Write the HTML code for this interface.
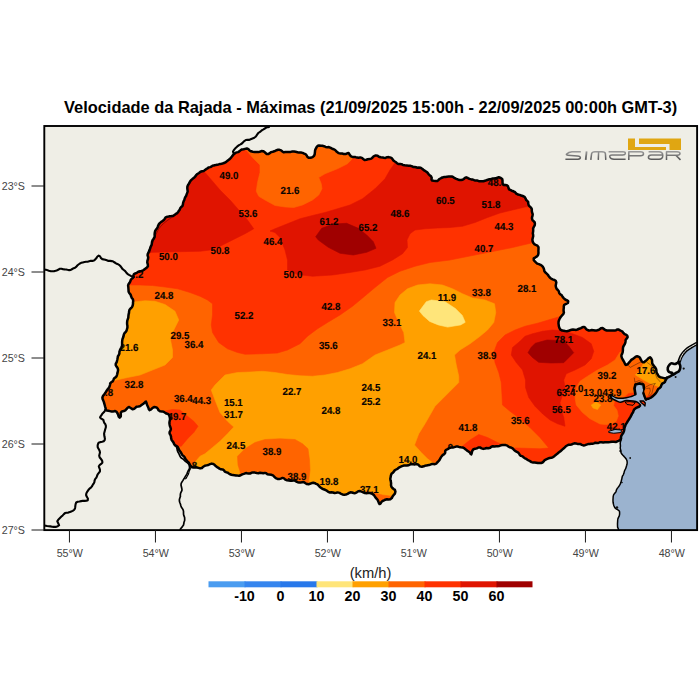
<!DOCTYPE html><html><head><meta charset="utf-8"><style>html,body{margin:0;padding:0;background:#fff}body{width:700px;height:700px;overflow:hidden;position:relative;font-family:"Liberation Sans",sans-serif}svg{position:absolute;left:0;top:0}text{font-family:"Liberation Sans",sans-serif}</style></head><body>
<svg width="700" height="700" viewBox="0 0 700 700">
<defs><clipPath id="st"><path d="M646.3,399.4L647.2,398.8L648.7,398.7L650.1,398.0L651.4,397.3L652.7,396.3L653.9,395.1L655.1,394.0L656.0,392.9L656.8,391.6L657.5,390.3L658.2,389.0L659.5,388.2L660.8,386.8L661.4,385.1L662.2,383.7L663.7,382.9L664.9,382.0L665.3,380.8L666.3,379.1L666.7,377.8L665.3,378.6L664.0,378.1L662.1,377.6L660.2,377.2L658.8,376.4L657.9,375.0L657.2,373.7L656.5,372.3L656.4,370.7L656.1,369.1L655.3,367.6L654.2,366.2L653.1,364.9L652.2,363.3L652.1,361.6L652.0,360.0L651.0,358.2L650.0,357.3L648.6,358.0L647.1,359.6L646.0,360.7L644.7,361.6L644.0,362.3L642.7,362.2L641.4,360.7L640.7,359.4L640.0,357.8L638.6,356.6L637.1,356.2L635.7,356.6L634.4,357.8L632.9,358.9L631.3,359.9L630.2,361.2L629.0,362.6L627.9,364.0L626.5,364.8L625.8,364.9L625.2,364.3L624.5,362.7L623.6,361.0L622.7,359.5L621.9,358.0L621.4,356.2L621.5,355.0L622.2,353.6L622.7,352.1L622.9,350.4L622.9,348.7L623.1,347.1L623.8,345.6L624.7,344.2L625.3,342.8L625.5,341.5L625.7,339.7L626.8,338.4L627.6,337.3L627.5,336.3L627.1,335.5L626.0,334.7L624.6,334.1L623.4,332.9L622.5,331.7L621.3,331.0L620.1,330.4L618.7,329.6L617.5,329.4L616.1,330.2L614.6,330.6L612.9,330.6L611.3,330.5L610.0,330.5L608.5,330.5L606.9,330.5L605.3,330.0L604.0,329.1L602.6,328.1L600.9,328.3L599.6,329.4L598.2,330.1L596.6,330.4L595.0,330.5L593.4,330.2L591.8,330.0L590.2,330.4L588.7,330.5L587.4,329.9L586.0,328.9L585.2,327.7L583.8,326.9L582.3,327.3L580.9,328.1L579.2,328.7L577.5,329.5L576.2,329.9L574.6,329.7L573.0,329.6L571.5,329.8L570.1,330.2L568.8,330.8L566.9,331.2L565.2,331.1L563.7,330.8L562.2,330.6L560.5,329.7L559.5,328.2L558.9,326.4L558.7,324.9L558.5,323.3L558.6,321.5L559.2,319.7L559.9,318.3L560.9,316.8L562.0,315.4L563.3,314.1L563.9,312.5L563.6,310.9L563.6,309.3L563.8,307.7L563.8,306.2L564.2,304.8L566.1,303.9L567.9,303.0L568.2,301.3L567.3,300.5L566.0,300.0L564.7,299.1L563.4,297.8L562.4,296.4L561.6,295.1L560.2,294.2L559.2,292.9L558.8,291.2L557.8,290.0L556.7,288.9L556.0,287.3L555.7,285.7L556.0,284.1L556.3,282.4L555.7,280.8L554.2,279.9L552.6,279.3L551.1,278.6L549.8,277.5L548.8,276.2L547.9,274.8L546.7,273.6L545.4,272.5L544.4,271.2L544.1,269.7L543.6,268.1L542.9,266.9L541.8,265.7L540.5,264.8L538.9,264.1L537.2,263.6L536.1,262.6L534.9,261.4L533.8,260.2L533.7,258.3L535.5,257.3L537.3,256.1L538.1,254.9L538.5,253.0L538.4,251.0L538.5,249.0L538.5,247.2L537.4,245.6L535.7,244.9L534.2,244.1L533.2,242.8L532.6,241.2L532.4,239.5L532.8,237.8L533.2,236.2L533.1,234.7L532.8,233.2L533.1,231.7L533.2,230.0L533.1,228.5L533.8,226.9L534.7,225.4L534.9,223.8L534.7,222.4L533.6,221.1L532.5,220.2L532.0,218.7L532.0,217.4L532.5,215.8L532.7,214.1L532.1,212.5L531.8,210.9L531.8,209.2L531.0,207.7L529.6,206.4L528.7,205.3L528.3,203.8L528.2,202.1L527.3,200.9L526.2,200.0L525.5,198.3L524.6,196.8L522.7,196.0L521.2,195.5L519.6,194.9L517.8,194.5L516.3,193.6L515.1,192.2L513.4,191.3L511.7,190.7L510.2,189.9L509.0,189.3L508.4,187.8L508.0,186.2L506.8,185.2L505.6,185.0L504.0,184.8L502.7,184.0L502.5,182.2L502.5,180.3L502.2,179.0L500.8,178.0L498.8,177.3L497.3,177.7L495.8,178.3L493.7,178.5L492.4,178.6L491.0,179.0L489.4,179.3L487.9,179.8L486.4,180.3L485.0,180.7L483.4,181.2L481.9,181.2L480.3,181.3L478.9,181.2L477.5,180.6L475.8,180.6L474.2,180.2L472.8,179.6L471.3,179.4L469.4,178.9L467.8,178.0L466.2,177.3L464.9,177.8L463.9,179.0L462.6,179.8L461.1,180.1L459.4,180.0L457.5,179.3L456.3,178.9L454.8,178.2L453.4,177.2L451.8,176.5L450.0,176.5L448.6,176.6L447.0,176.7L445.4,176.9L443.8,177.1L442.4,177.5L441.3,178.0L439.5,179.0L438.3,180.2L437.3,180.9L435.7,180.9L433.8,180.8L432.0,180.5L431.5,179.4L431.7,177.8L431.0,176.3L429.6,175.2L428.5,174.1L427.4,172.6L426.0,171.5L424.6,170.7L423.4,169.8L422.1,168.7L420.7,167.8L418.8,167.6L417.4,167.7L416.1,167.3L414.6,167.0L413.1,166.9L411.6,166.1L410.1,165.7L408.4,165.8L406.6,165.4L404.8,165.3L403.0,165.0L401.6,164.2L400.2,164.1L398.3,164.0L397.0,163.2L396.1,162.3L394.8,161.5L393.4,160.5L392.5,159.1L391.4,157.9L389.9,157.4L388.6,157.1L387.1,157.2L385.5,157.9L383.9,157.8L382.5,157.4L380.6,157.3L378.9,156.8L377.6,155.8L375.7,155.4L373.6,156.3L372.6,157.5L371.3,158.6L369.6,159.1L367.8,159.3L366.3,159.8L364.6,160.0L363.2,159.0L361.9,157.9L360.3,157.4L358.7,157.8L357.0,157.6L355.4,157.1L353.9,156.9L352.5,157.0L350.7,156.1L349.5,154.5L348.7,153.1L347.2,153.3L345.5,154.1L343.7,153.9L342.2,153.6L340.5,153.5L338.7,153.1L337.5,152.3L336.2,151.2L335.1,150.0L333.8,149.2L332.1,148.7L330.7,147.9L328.9,147.1L327.3,147.2L325.6,146.9L324.0,146.2L322.4,145.8L321.1,145.8L319.0,145.5L317.9,145.8L317.3,146.2L316.5,147.3L315.7,148.8L315.1,150.3L314.9,152.3L314.7,154.2L314.1,155.8L312.6,157.1L310.6,157.8L308.6,157.8L307.3,156.8L306.6,155.3L305.5,154.2L304.2,153.7L302.6,152.9L300.9,152.5L299.1,152.6L297.4,152.2L295.7,151.8L294.0,151.6L292.3,151.5L290.6,151.9L288.9,152.1L287.1,152.0L285.3,152.1L283.8,152.3L282.4,151.5L281.1,150.4L279.5,149.8L278.0,149.8L276.6,150.2L275.3,150.8L274.2,151.3L272.8,151.7L271.2,152.1L270.1,152.9L268.5,154.0L266.5,153.9L265.1,152.5L263.5,151.3L261.4,151.1L259.7,151.7L258.1,152.1L256.3,152.1L254.6,151.9L252.8,151.7L251.0,151.3L249.6,150.5L248.4,149.2L246.8,148.5L245.1,148.9L243.6,149.3L242.0,149.4L240.5,150.3L239.3,151.4L238.1,152.1L236.8,152.4L235.4,152.9L234.1,153.9L233.2,154.9L232.2,156.1L231.3,157.4L230.1,158.7L228.8,159.8L227.5,160.8L226.2,161.9L224.8,162.8L223.2,163.3L221.6,163.7L220.1,164.0L218.5,164.4L217.0,164.7L215.5,165.1L213.9,165.4L212.5,165.8L211.2,166.7L210.0,167.1L208.5,167.5L207.6,168.3L206.4,168.9L205.0,170.0L203.9,170.9L202.2,171.2L200.5,171.8L199.0,173.0L197.4,174.0L196.1,175.2L195.1,176.7L194.0,177.8L192.6,178.8L191.4,179.9L190.3,181.1L189.6,182.5L188.9,183.7L188.2,184.7L187.4,186.6L187.3,188.2L187.5,190.1L187.7,191.4L187.2,192.8L186.7,194.2L186.2,195.7L185.3,197.1L184.7,198.5L184.3,200.0L183.6,201.4L183.1,202.9L182.9,204.5L182.4,206.0L181.2,207.0L180.2,208.3L179.7,209.7L178.9,210.8L178.1,212.0L177.3,213.1L175.8,213.9L174.4,214.9L173.0,215.9L171.5,216.1L169.9,216.2L168.6,216.5L166.9,216.8L165.6,217.3L164.8,218.7L163.8,220.0L162.5,221.0L161.2,221.9L160.0,222.9L158.9,224.1L158.2,225.5L157.7,227.0L157.1,228.3L156.0,229.5L155.2,230.9L154.8,232.5L154.6,234.4L154.7,235.8L154.5,237.3L153.6,238.7L152.7,240.0L152.1,241.4L151.9,242.8L151.7,244.5L151.1,245.9L150.4,247.3L150.0,248.7L149.5,250.1L148.9,251.4L148.4,252.8L147.7,254.1L147.6,255.6L148.2,257.1L148.0,259.0L147.4,260.9L147.3,262.7L147.8,264.3L147.9,266.2L146.9,267.5L145.6,268.5L144.5,269.4L143.2,270.3L141.6,271.0L140.0,271.3L138.3,271.8L136.8,272.8L135.3,273.4L134.0,274.1L133.4,275.4L133.5,276.9L132.9,277.9L131.7,278.7L130.7,280.1L130.2,281.7L129.5,282.9L128.6,284.0L128.1,285.4L128.3,287.0L128.4,288.5L128.5,289.9L128.6,291.6L129.4,293.2L130.6,294.6L131.1,296.3L131.8,297.9L132.9,299.3L133.2,300.9L133.0,302.5L133.0,303.8L132.7,305.4L132.0,307.1L130.7,308.4L129.5,309.8L129.1,311.3L129.0,312.9L128.6,314.4L128.4,316.0L128.3,317.6L127.8,319.1L127.3,320.6L127.1,322.3L127.1,324.1L127.4,325.8L127.4,327.6L127.0,329.0L126.6,330.5L125.8,331.8L124.6,333.0L123.9,334.3L123.6,335.9L123.2,337.3L122.5,339.0L122.2,340.7L122.1,342.4L122.1,344.2L122.0,345.9L121.3,347.5L120.6,348.9L119.9,350.3L119.4,351.8L119.4,353.5L118.8,355.0L117.9,356.2L117.7,357.6L117.4,359.3L117.0,360.9L116.6,362.3L115.8,363.7L115.7,365.1L116.7,366.8L117.7,368.2L118.1,370.0L117.8,371.4L117.5,372.9L117.1,374.6L116.5,376.3L115.3,377.6L114.0,378.6L113.4,380.0L112.7,381.4L111.2,382.3L110.2,383.4L110.0,385.0L109.5,386.7L108.7,388.1L107.7,389.2L106.8,390.4L106.1,391.6L105.2,393.1L104.2,394.4L103.1,395.8L102.4,397.5L102.6,399.0L103.3,400.6L103.9,402.1L104.3,403.6L104.7,405.0L105.2,406.8L105.6,408.1L105.7,409.3L106.6,410.5L108.4,410.7L110.0,411.1L111.7,411.6L113.5,411.4L115.1,411.0L116.6,411.9L117.6,413.5L118.2,414.9L118.7,416.6L119.7,417.6L120.8,416.4L120.8,414.6L120.8,412.7L121.9,411.4L123.8,411.1L125.3,410.4L126.4,409.2L127.4,407.9L128.8,406.9L130.7,408.0L132.5,409.3L134.2,408.7L135.5,407.7L136.3,406.8L138.2,406.5L139.8,406.2L140.5,405.8L141.9,404.8L143.3,403.8L144.3,403.0L145.4,401.8L146.0,401.6L146.4,402.6L146.9,404.5L147.7,406.2L148.4,407.7L148.8,409.2L149.5,410.1L151.1,409.3L152.6,407.8L154.4,407.0L156.5,407.4L157.7,408.6L158.6,410.3L160.0,411.3L161.8,411.4L163.6,411.8L165.1,412.8L166.4,413.6L167.9,413.9L169.0,414.8L169.5,416.3L169.9,418.0L170.0,419.9L169.6,421.4L169.4,422.9L169.6,424.5L169.9,426.0L170.5,427.5L170.9,429.1L170.4,430.6L169.6,432.0L169.6,433.6L170.4,434.9L171.0,436.5L171.1,438.2L171.6,439.9L172.6,441.2L173.5,442.5L174.1,444.0L175.0,445.3L176.5,446.0L177.8,447.0L178.5,448.5L179.1,450.0L180.0,451.2L181.0,452.5L181.6,453.9L182.5,455.3L183.8,456.2L184.8,457.5L185.5,459.0L186.5,460.2L187.4,461.3L188.6,462.5L189.4,463.7L190.0,465.0L191.0,466.1L192.1,467.2L193.7,467.6L195.3,467.3L196.8,467.5L198.5,467.9L200.1,468.4L201.9,468.0L203.3,466.7L204.8,465.8L206.6,465.4L208.3,465.0L210.0,464.1L211.6,463.6L213.3,464.0L214.8,465.1L216.0,466.3L217.2,467.1L218.4,467.8L219.5,468.7L220.9,469.3L222.6,469.4L223.9,470.2L224.8,471.6L226.1,472.2L227.6,472.6L228.8,473.5L230.0,474.3L231.4,474.7L232.9,475.1L234.5,475.2L236.0,475.4L237.4,475.6L239.1,475.8L240.7,475.3L242.2,474.4L243.8,473.9L245.2,473.3L246.6,473.1L248.2,473.6L250.0,473.5L251.5,472.8L253.1,472.4L254.9,472.6L256.7,473.0L258.4,473.2L260.0,472.8L261.7,473.0L263.3,473.3L264.8,472.9L266.2,473.3L267.4,474.2L269.3,474.6L271.2,474.8L273.0,475.4L274.4,476.8L275.8,478.2L277.5,478.9L279.2,479.0L280.8,478.6L282.5,477.9L284.0,478.4L285.3,479.6L287.0,480.2L288.8,480.4L290.2,480.8L291.7,480.7L293.3,480.4L294.9,480.6L296.2,481.5L297.7,482.2L299.2,482.5L300.8,482.5L302.6,482.1L304.1,482.2L305.5,483.2L307.0,484.1L308.6,484.3L310.0,483.7L311.8,483.1L313.4,482.8L315.0,483.2L316.1,483.8L317.5,484.4L318.6,485.5L319.6,486.7L320.9,487.7L322.2,488.6L323.6,489.3L325.1,489.8L326.8,490.7L328.2,491.8L330.0,492.5L331.4,492.3L333.0,492.5L334.6,493.0L336.2,492.7L337.6,492.4L339.5,492.9L341.0,493.8L342.5,494.4L344.2,494.7L345.9,494.5L347.6,493.9L348.9,493.0L350.4,492.3L352.1,492.5L353.6,493.0L355.0,493.2L356.8,492.3L358.3,491.3L360.0,491.1L361.6,491.7L363.2,492.4L364.9,493.1L366.7,493.3L368.4,492.9L370.0,492.9L371.4,493.5L372.6,494.1L373.8,494.9L374.6,496.1L375.4,497.4L376.5,498.6L377.5,499.8L378.3,501.4L378.8,502.9L379.5,504.0L380.6,503.5L381.3,502.1L382.6,501.0L384.0,500.4L385.3,499.7L386.9,499.3L388.6,499.5L390.3,499.3L391.8,498.1L392.7,496.3L393.7,495.0L394.9,493.6L395.4,491.7L394.9,489.9L393.6,489.0L392.4,488.0L391.4,486.7L391.0,485.1L391.1,483.4L390.9,481.8L390.5,480.3L390.3,478.8L390.6,477.2L390.9,475.5L391.5,473.8L392.8,472.8L393.8,471.7L394.7,470.3L396.1,469.5L397.5,468.8L398.8,467.7L400.4,466.9L402.0,466.2L403.6,465.6L405.2,465.5L406.9,465.6L408.4,465.3L409.9,464.5L411.5,464.0L413.2,464.2L414.9,464.4L416.3,464.1L417.9,464.4L419.0,465.4L419.9,466.4L421.8,466.8L423.7,466.3L424.9,465.8L426.7,465.4L428.8,465.1L430.1,464.7L431.7,464.1L433.3,464.0L434.9,464.2L436.2,463.7L437.2,462.5L438.3,461.4L439.4,460.2L440.1,458.8L440.9,457.4L441.8,456.1L442.9,454.9L444.3,454.1L445.2,452.7L445.2,451.0L446.1,449.8L447.7,449.1L449.2,448.1L451.1,447.5L452.8,447.6L454.4,447.1L456.0,446.6L457.5,446.5L459.0,446.9L460.7,447.2L462.6,447.4L464.0,448.1L465.7,449.4L467.1,450.7L468.5,451.5L469.9,452.5L470.6,453.9L471.2,454.4L471.7,453.2L472.2,451.0L473.4,449.2L475.1,448.8L476.8,448.4L478.4,447.5L480.0,447.4L481.6,448.4L483.2,448.9L485.0,448.5L486.5,448.0L488.4,448.2L490.2,447.7L491.4,446.7L492.9,446.2L494.6,446.4L496.2,446.3L497.6,446.2L499.4,445.9L500.9,445.3L502.5,445.0L504.0,445.1L505.7,445.1L507.3,445.6L508.5,446.7L509.9,447.3L511.5,447.7L512.9,448.6L513.9,449.8L515.1,450.9L516.4,451.6L517.9,452.3L519.0,453.5L519.8,455.0L521.0,455.9L522.6,456.4L523.8,457.5L524.9,458.3L526.3,458.9L527.5,459.8L528.8,460.5L530.0,461.2L531.5,462.1L533.1,462.5L534.7,462.6L536.3,462.8L537.9,463.1L539.5,463.1L541.1,463.0L542.5,462.5L543.7,461.4L544.7,460.1L546.2,459.4L547.8,458.7L549.5,458.0L551.4,457.8L553.1,457.1L554.6,455.9L556.0,454.7L557.3,453.8L558.4,452.7L559.7,451.7L560.9,450.9L562.2,449.6L563.5,448.5L564.8,447.3L565.8,446.3L567.1,445.5L568.4,444.8L570.1,444.7L571.4,444.6L572.8,443.9L574.3,443.3L576.0,443.5L577.5,443.9L579.0,444.1L580.5,444.1L581.9,444.8L583.4,445.4L585.0,445.2L586.5,444.6L588.0,444.1L589.6,444.0L591.1,443.8L592.6,443.7L594.0,443.4L595.4,442.7L596.8,443.0L598.4,443.0L600.0,442.2L601.5,442.2L603.2,442.4L604.9,442.2L606.7,442.3L608.4,442.2L610.0,442.0L611.9,441.7L613.9,441.8L615.8,442.0L617.4,441.3L618.6,440.9L620.4,439.9L620.8,438.5L620.9,437.5L621.2,436.2L622.1,434.5L623.3,432.8L624.0,431.1L624.3,429.5L624.5,427.9L625.0,426.5L625.5,425.0L626.3,423.6L627.2,422.3L627.9,420.9L628.9,419.6L629.7,418.1L630.6,416.7L631.4,415.2L632.0,413.7L633.1,412.2L633.6,410.7L634.4,409.2L635.7,408.2L637.4,407.3L639.1,406.7L640.0,405.7Z"/></clipPath><clipPath id="fr"><rect x="44.5" y="126" width="653" height="404"/></clipPath></defs>
<rect x="44.5" y="126" width="653" height="404" fill="#efeee6"/>
<g clip-path="url(#fr)">
<path d="M697.50,342.90 L694.80,344.40 L691.40,346.50 L688.00,348.80 L684.60,351.30 L682.30,354.30 L680.60,357.50 L680.00,361.00 L679.80,364.30 L680.30,367.70 L679.00,371.10 L676.00,372.90 L673.00,374.60 L670.00,376.30 L666.60,378.00 L665.10,380.60 L662.60,384.00 L659.60,388.30 L655.50,394.30 L650.30,398.30 L646.30,399.40 L643.00,402.50 L640.00,405.70 L634.30,409.10 L632.00,413.70 L628.60,419.40 L625.70,425.10 L623.40,430.90 L621.70,437.70 L620.00,445.00 L621.25,452.50 L625.00,457.50 L627.50,462.50 L625.00,470.00 L622.50,476.25 L621.25,482.50 L617.50,488.75 L613.75,495.00 L613.00,502.50 L615.00,507.50 L620.00,511.25 L618.75,517.50 L617.50,525.00 L618.75,530.00 L697.50,530.00 Z" fill="#9bb3cf"/>
<g clip-path="url(#st)">
<rect x="90" y="130" width="600" height="390" fill="#ff6400"/>
<path d="M128.00,285.00 L140.00,285.00 L152.50,285.50 L165.00,287.00 L177.50,288.75 L190.00,292.50 L200.00,296.25 L207.50,300.00 L212.50,303.75 L212.50,315.00 L211.25,325.00 L212.50,332.50 L218.75,342.50 L227.50,348.75 L237.50,352.50 L245.00,354.25 L262.50,353.75 L277.50,353.00 L287.50,350.00 L300.00,343.75 L307.50,336.25 L317.50,328.75 L327.50,322.50 L340.00,315.00 L352.50,306.25 L362.50,298.00 L375.00,287.50 L387.50,277.50 L400.00,271.25 L415.00,266.25 L430.00,262.50 L450.00,260.00 L462.50,257.50 L475.00,255.00 L487.50,252.50 L500.00,250.00 L512.50,247.50 L525.00,244.50 L545.00,240.00 L545.00,120.00 L100.00,120.00 L100.00,285.00 Z" fill="#ff3200" stroke="#ff3200" stroke-width="0.6"/>
<path d="M242.00,145.00 L252.50,157.50 L260.00,165.00 L260.00,172.50 L257.50,182.50 L256.25,191.25 L258.75,196.25 L265.00,200.00 L275.00,205.50 L285.00,207.00 L293.75,207.50 L302.50,205.00 L312.50,200.00 L318.75,195.00 L322.00,188.75 L321.25,183.75 L318.75,177.50 L325.00,173.75 L337.50,168.75 L347.50,163.75 L354.00,157.00 L354.00,140.00 L242.00,140.00 Z" fill="#ff6400" stroke="#ff6400" stroke-width="0.6"/>
<path d="M190.00,176.00 L200.00,172.00 L205.00,172.50 L212.50,181.25 L220.00,190.00 L230.00,200.00 L238.75,210.00 L247.50,220.00 L253.75,228.75 L245.00,233.75 L232.50,240.00 L220.00,246.25 L210.00,250.00 L200.00,251.25 L175.00,251.75 L145.00,252.50 L140.00,230.00 L170.00,200.00 Z" fill="#e01400" stroke="#e01400" stroke-width="0.6"/>
<path d="M397.00,160.00 L390.00,170.00 L385.00,178.75 L375.00,188.75 L362.50,198.75 L350.00,205.00 L337.50,208.75 L325.00,212.50 L312.50,215.50 L300.00,218.75 L287.50,223.75 L275.00,228.75 L270.00,231.00 L275.00,232.50 L280.00,237.50 L285.00,250.00 L287.50,260.00 L287.50,270.00 L297.50,274.50 L312.50,276.25 L332.50,275.00 L350.00,272.50 L365.00,270.00 L380.00,266.25 L392.50,260.00 L402.50,253.75 L407.50,247.50 L407.00,240.00 L410.00,233.75 L415.00,230.00 L425.00,228.75 L437.50,228.00 L450.00,227.50 L462.50,226.25 L475.00,222.50 L487.50,217.50 L500.00,213.00 L512.50,210.00 L525.00,207.00 L540.00,205.00 L540.00,150.00 L397.00,150.00 Z" fill="#e01400" stroke="#e01400" stroke-width="0.6"/>
<path d="M315.70,236.70 L321.70,228.30 L333.30,224.00 L346.70,223.30 L358.30,228.30 L366.70,235.00 L373.30,241.70 L376.00,248.30 L366.70,252.30 L353.30,255.00 L340.00,253.30 L328.30,247.30 L318.30,240.00 Z" fill="#a00000" stroke="#a00000" stroke-width="0.6"/>
<path d="M566.00,314.00 L558.75,317.00 L550.00,319.50 L537.50,323.25 L525.00,326.25 L515.00,330.00 L505.00,335.00 L497.50,342.50 L493.75,352.50 L495.00,362.50 L498.75,372.50 L501.25,382.50 L502.00,395.00 L502.50,405.00 L510.00,411.25 L520.00,418.75 L530.00,427.50 L540.00,437.50 L548.75,448.00 L540.00,448.75 L525.00,448.25 L515.00,448.00 L510.00,452.00 L520.00,470.00 L640.00,470.00 L680.00,360.00 L600.00,310.00 Z" fill="#ff3200" stroke="#ff3200" stroke-width="0.6"/>
<path d="M620.00,352.00 L640.00,350.00 L655.00,355.00 L675.00,380.00 L655.00,393.00 L648.50,395.30 L645.50,396.50 L644.50,393.00 L640.00,392.00 L634.30,392.30 L628.60,393.10 L624.60,396.60 L614.50,400.00 L613.70,405.70 L617.10,410.30 L618.30,416.00 L616.00,421.70 L611.40,424.00 L605.70,424.60 L600.00,424.00 L590.00,418.75 L582.50,412.50 L576.25,405.00 L575.00,397.50 L576.25,387.50 L580.00,381.25 L587.50,376.25 L597.50,370.00 L607.50,365.00 L615.00,360.00 Z" fill="#ff6400" stroke="#ff6400" stroke-width="0.6"/>
<path d="M525.00,336.25 L532.50,333.75 L542.50,331.25 L552.50,330.00 L562.50,330.75 L572.50,333.75 L582.50,337.50 L591.25,343.75 L593.75,351.25 L591.25,358.75 L585.00,365.00 L575.00,370.00 L566.25,373.75 L563.75,380.00 L565.00,387.50 L562.50,395.00 L560.00,402.50 L561.25,410.00 L563.75,417.50 L565.00,426.25 L557.50,423.75 L550.00,420.00 L542.50,413.75 L535.00,406.25 L528.75,397.50 L525.50,387.50 L525.50,380.00 L522.50,370.00 L516.25,362.50 L511.25,355.00 L512.50,347.50 L520.00,341.25 Z" fill="#e01400" stroke="#e01400" stroke-width="0.6"/>
<path d="M528.00,352.70 L531.00,347.50 L535.30,343.30 L547.00,340.00 L563.70,340.70 L569.00,346.50 L573.70,352.70 L563.70,362.70 L551.00,363.00 L538.70,362.30 L532.50,357.50 Z" fill="#a00000" stroke="#a00000" stroke-width="0.6"/>
<path d="M462.50,446.00 L470.00,440.00 L478.75,434.50 L487.50,437.50 L497.50,442.50 L503.75,445.00 L503.00,452.00 L462.00,452.00 Z" fill="#ff3200" stroke="#ff3200" stroke-width="0.6"/>
<path d="M164.00,411.25 L172.50,409.50 L180.00,410.00 L187.50,416.25 L193.75,421.25 L198.00,426.25 L193.75,432.50 L187.50,438.75 L181.25,446.25 L174.00,446.00 L166.00,430.00 Z" fill="#ff3200" stroke="#ff3200" stroke-width="0.6"/>
<path d="M133.75,302.00 L145.00,300.75 L155.00,301.25 L165.00,304.50 L175.00,311.25 L178.75,320.00 L173.75,330.00 L170.50,340.00 L172.50,350.00 L172.50,357.50 L165.00,365.00 L152.50,370.00 L140.00,375.00 L127.50,377.50 L116.25,380.00 L105.00,383.00 L105.00,340.00 L120.00,302.00 Z" fill="#ffa000" stroke="#ffa000" stroke-width="0.6"/>
<path d="M211.25,390.00 L215.00,385.00 L225.00,375.00 L237.50,372.50 L250.00,372.00 L262.50,371.25 L275.00,372.50 L287.50,374.50 L300.00,375.75 L312.50,376.25 L325.00,375.00 L337.50,372.50 L350.00,368.75 L362.50,363.75 L375.00,355.00 L387.50,350.00 L400.00,345.00 L405.00,342.50 L403.75,332.50 L398.75,322.50 L394.50,312.50 L395.00,302.50 L400.00,295.00 L407.50,288.75 L417.50,285.00 L430.00,283.75 L442.50,285.00 L452.50,288.75 L462.50,293.75 L472.50,298.00 L485.00,300.00 L494.50,303.75 L495.75,312.50 L493.75,322.50 L487.50,330.00 L480.00,336.25 L470.00,343.75 L460.00,350.00 L454.50,355.00 L456.25,365.00 L458.75,376.25 L458.75,382.50 L450.00,391.25 L442.50,398.75 L435.00,406.25 L430.00,415.00 L425.00,423.75 L418.75,433.75 L414.50,445.00 L421.25,452.50 L427.50,458.75 L432.50,462.50 L438.00,465.00 L438.00,510.00 L190.00,510.00 L190.00,466.00 L193.75,463.75 L200.00,456.25 L205.00,453.75 L212.50,447.50 L220.00,441.25 L227.50,433.75 L233.75,427.00 L227.50,421.25 L220.00,412.50 L215.00,400.00 Z" fill="#ffa000" stroke="#ffa000" stroke-width="0.6"/>
<path d="M237.50,456.25 L245.00,448.75 L255.00,442.50 L265.00,439.50 L280.00,438.75 L295.00,439.50 L302.50,443.75 L308.00,448.75 L309.50,460.00 L310.00,470.00 L308.75,480.00 L308.00,490.00 L240.00,490.00 L240.00,471.25 L238.00,465.00 Z" fill="#ff6400" stroke="#ff6400" stroke-width="0.6"/>
<path d="M366.00,491.00 L382.50,495.00 L391.25,496.25 L396.00,492.00 L398.00,510.00 L366.00,510.00 Z" fill="#ff6400" stroke="#ff6400" stroke-width="0.6"/>
<path d="M419.40,311.10 L426.30,301.70 L431.40,300.00 L445.10,301.70 L455.40,308.60 L462.30,315.40 L465.20,322.30 L460.60,324.90 L447.70,327.10 L438.30,324.90 L429.70,321.40 L422.90,315.40 Z" fill="#ffe57a" stroke="#ffe57a" stroke-width="0.6"/>
<path d="M591.25,405.00 L596.25,402.00 L600.75,405.00 L597.50,409.50 L593.00,408.00 Z" fill="#ffa000" stroke="#ffa000" stroke-width="0.6"/>
<path d="M635.40,374.90 L639.40,370.30 L642.90,365.10 L643.00,358.00 L660.00,355.00 L670.00,378.00 L665.70,380.00 L662.90,382.90 L659.40,386.90 L656.00,385.70 L650.30,383.40 L644.60,380.60 L638.90,377.10 Z" fill="#ffa000" stroke="#ffa000" stroke-width="0.6"/>
</g>
<path d="M646.30,399.40 L645.70,399.40 L644.60,396.60 L643.40,393.10 L644.00,388.60 L643.40,384.60 L639.40,383.40 L635.40,384.60 L634.50,388.50 L635.40,394.30 L630.90,396.60 L626.30,397.70 L620.60,398.30 L616.00,397.70 L612.60,396.00 L610.90,394.30 L610.50,396.50 L612.60,398.90 L617.10,401.10 L620.60,402.30 L626.30,400.60 L633.10,401.10 L637.70,402.30 L640.60,405.10 L643.00,402.50 Z" fill="#9bb3cf"/>
</g>
<g font-size="10.2" font-weight="bold" fill="#0a0400" stroke="#0a0400" stroke-width="0.15" text-anchor="middle" text-rendering="geometricPrecision" clip-path="url(#st)">
<text transform="translate(229,179.0) scale(0.951,1)">49.0</text>
<text transform="translate(290,193.5) scale(0.951,1)">21.6</text>
<text transform="translate(248,216.5) scale(0.951,1)">53.6</text>
<text transform="translate(329,225.0) scale(0.951,1)">61.2</text>
<text transform="translate(368,231.0) scale(0.951,1)">65.2</text>
<text transform="translate(400,217.0) scale(0.951,1)">48.6</text>
<text transform="translate(445.3,203.8) scale(0.951,1)">60.5</text>
<text transform="translate(497.2,186.0) scale(0.951,1)">48.3</text>
<text transform="translate(491,208.0) scale(0.951,1)">51.8</text>
<text transform="translate(504,230.0) scale(0.951,1)">44.3</text>
<text transform="translate(484,252.0) scale(0.951,1)">40.7</text>
<text transform="translate(168.4,259.5) scale(0.951,1)">50.0</text>
<text transform="translate(220,254.0) scale(0.951,1)">50.8</text>
<text transform="translate(273,245.0) scale(0.951,1)">46.4</text>
<text transform="translate(293,278.0) scale(0.951,1)">50.0</text>
<text transform="translate(331,310.0) scale(0.951,1)">42.8</text>
<text transform="translate(244,319.0) scale(0.951,1)">52.2</text>
<text transform="translate(164,299.0) scale(0.951,1)">24.8</text>
<text transform="translate(180,339.0) scale(0.951,1)">29.5</text>
<text transform="translate(194,348.0) scale(0.951,1)">36.4</text>
<text transform="translate(129,351.0) scale(0.951,1)">21.6</text>
<text transform="translate(328.3,348.7) scale(0.951,1)">35.6</text>
<text transform="translate(392,326.0) scale(0.951,1)">33.1</text>
<text transform="translate(447,301.0) scale(0.951,1)">11.9</text>
<text transform="translate(481.5,295.5) scale(0.951,1)">33.8</text>
<text transform="translate(527,292.0) scale(0.951,1)">28.1</text>
<text transform="translate(427,359.0) scale(0.951,1)">24.1</text>
<text transform="translate(487,359.0) scale(0.951,1)">38.9</text>
<text transform="translate(563.75,342.8) scale(0.951,1)">78.1</text>
<text transform="translate(134,388.0) scale(0.951,1)">32.8</text>
<text transform="translate(109,396.0) scale(0.951,1)">.8</text>
<text transform="translate(183.3,401.5) scale(0.951,1)">36.4</text>
<text transform="translate(201.7,404.0) scale(0.951,1)">44.3</text>
<text transform="translate(233.3,406.4) scale(0.951,1)">15.1</text>
<text transform="translate(233.5,418.0) scale(0.951,1)">31.7</text>
<text transform="translate(292,395.0) scale(0.951,1)">22.7</text>
<text transform="translate(331,414.0) scale(0.951,1)">24.8</text>
<text transform="translate(371,390.5) scale(0.951,1)">24.5</text>
<text transform="translate(371,405.0) scale(0.951,1)">25.2</text>
<text transform="translate(177,420.0) scale(0.951,1)">49.7</text>
<text transform="translate(236,449.0) scale(0.951,1)">24.5</text>
<text transform="translate(272,454.5) scale(0.951,1)">38.9</text>
<text transform="translate(297,480.0) scale(0.951,1)">38.9</text>
<text transform="translate(329,484.5) scale(0.951,1)">19.8</text>
<text transform="translate(369.3,493.0) scale(0.951,1)">37.1</text>
<text transform="translate(408,463.2) scale(0.951,1)">14.0</text>
<text transform="translate(468,430.5) scale(0.951,1)">41.8</text>
<text transform="translate(520.3,424.2) scale(0.951,1)">35.6</text>
<text transform="translate(607,378.5) scale(0.951,1)">39.2</text>
<text transform="translate(646,373.5) scale(0.951,1)">17.6</text>
<text transform="translate(574,391.5) scale(0.951,1)">27.0</text>
<text transform="translate(565.9,396.4) scale(0.951,1)">63.4</text>
<text transform="translate(592.75,395.5) scale(0.951,1)">13.0</text>
<text transform="translate(612,396.0) scale(0.951,1)">43.9</text>
<text transform="translate(603,402.0) scale(0.951,1)">23.8</text>
<text transform="translate(561.4,413.2) scale(0.951,1)">56.5</text>
<text transform="translate(616.25,430.3) scale(0.951,1)">42.1</text>
<text transform="translate(139.3,278.4) scale(0.951,1)">.2</text>
<text transform="translate(194.5,468.5) scale(0.951,1)">8</text>
<text transform="translate(450.5,450.6) scale(0.951,1)">9</text>
</g>
<g clip-path="url(#fr)">
<path d="M646.30,399.40 C646.20,399.40 645.98,399.87 645.70,399.40 C645.42,398.93 644.98,397.65 644.60,396.60 C644.22,395.55 643.50,394.43 643.40,393.10 C643.30,391.77 644.00,390.02 644.00,388.60 C644.00,387.18 644.17,385.47 643.40,384.60 C642.63,383.73 640.73,383.40 639.40,383.40 C638.07,383.40 636.22,383.75 635.40,384.60 C634.58,385.45 634.50,386.88 634.50,388.50 C634.50,390.12 636.00,392.95 635.40,394.30 C634.80,395.65 632.42,396.03 630.90,396.60 C629.38,397.17 628.02,397.42 626.30,397.70 C624.58,397.98 622.32,398.30 620.60,398.30 C618.88,398.30 617.33,398.08 616.00,397.70 C614.67,397.32 613.45,396.57 612.60,396.00 C611.75,395.43 611.25,394.22 610.90,394.30 C610.55,394.38 610.22,395.73 610.50,396.50 C610.78,397.27 611.50,398.13 612.60,398.90 C613.70,399.67 615.77,400.53 617.10,401.10 C618.43,401.67 619.07,402.38 620.60,402.30 C622.13,402.22 624.22,400.80 626.30,400.60 C628.38,400.40 631.20,400.82 633.10,401.10 C635.00,401.38 636.45,401.63 637.70,402.30 C638.95,402.97 640.12,404.63 640.60,405.10" fill="none" stroke="#000" stroke-width="1.5" stroke-linejoin="round"/>
<path d="M644.00,388.60 L643.40,384.60 L639.40,383.40 L635.40,384.60 L634.50,388.50 L635.40,394.30" fill="none" stroke="#000" stroke-width="2.6" stroke-linejoin="round" stroke-linecap="round"/>
<path d="M645.70,399.40 L644.60,396.60 L643.40,393.10" fill="none" stroke="#000" stroke-width="2.4" stroke-linejoin="round" stroke-linecap="round"/>
<path d="M634.30,377.70 L634.90,382.30 L638.90,380.60 L642.90,382.30 L641.70,384.00" fill="none" stroke="#2a0e00" stroke-width="0.5" opacity="0.85" clip-path="url(#st)"/>
<path d="M645.10,387.40 L650.30,384.60 L655.40,383.40 L653.70,385.70 L652.00,393.10 L649.10,396.60" fill="none" stroke="#2a0e00" stroke-width="0.5" opacity="0.85" clip-path="url(#st)"/>
<path d="M646.30,388.60 L649.70,388.00 L650.30,390.90 L648.60,395.40" fill="none" stroke="#2a0e00" stroke-width="0.5" opacity="0.85" clip-path="url(#st)"/>
<path d="M627.40,364.60 L630.30,367.40 L638.90,362.90 L642.30,361.70" fill="none" stroke="#2a0e00" stroke-width="0.5" opacity="0.85" clip-path="url(#st)"/>
<path d="M646.90,362.30 L650.90,365.10 L653.10,368.60 L657.10,378.30 L660.60,382.30" fill="none" stroke="#2a0e00" stroke-width="0.5" opacity="0.85" clip-path="url(#st)"/>
<path d="M177.10,214.00 C175.43,215.12 169.83,218.63 167.10,220.70 C164.37,222.77 162.37,224.50 160.70,226.40 C159.03,228.30 158.17,230.07 157.10,232.10 C156.03,234.13 155.25,236.10 154.30,238.60 C153.35,241.10 152.12,244.72 151.40,247.10 C150.68,249.48 150.23,251.93 150.00,252.90" fill="none" stroke="#4a0000" stroke-width="0.6" opacity="0.8"/>
<path d="M640.00,400.80 L643.50,401.00 L645.30,403.00 L645.00,406.00 L643.50,404.50 L641.00,402.50 Z" fill="#ff3200" stroke="#000" stroke-width="1.3" stroke-linejoin="round"/>
<path d="M625.10,402.00 L630.00,401.60 L635.40,402.50 L633.00,405.30 L627.00,404.50 Z" fill="#ff3200" stroke="#000" stroke-width="1" stroke-linejoin="round"/>
<path d="M608.75,431.25 L615.00,429.50 L621.25,430.00 L621.25,432.50 L613.75,433.25 L608.75,432.50 Z" fill="#9bb3cf" stroke="#000" stroke-width="1"/>
<path d="M669.60,364.60 C670.25,363.87 670.78,363.40 671.70,363.30 C672.62,363.20 674.10,364.08 675.10,364.00 C676.10,363.92 676.92,362.75 677.70,362.80 C678.48,362.85 679.37,363.48 679.80,364.30 C680.23,365.12 680.43,366.57 680.30,367.70 C680.17,368.83 679.72,370.23 679.00,371.10 C678.28,371.97 677.00,372.32 676.00,372.90 C675.00,373.48 673.65,374.60 673.00,374.60 C672.35,374.60 672.60,373.27 672.10,372.90 C671.60,372.53 670.63,372.70 670.00,372.40 C669.37,372.10 668.67,371.88 668.30,371.10 C667.93,370.32 667.58,368.78 667.80,367.70 C668.02,366.62 668.95,365.33 669.60,364.60 Z" fill="#efeee6" stroke="#000" stroke-width="2.6" stroke-linejoin="round"/>
<path d="M269.1,126.9L267.9,127.1L266.3,127.6L264.8,128.5L263.5,129.3L262.1,130.1L260.7,131.3L259.6,132.1L258.3,133.0L257.3,134.3L256.5,135.6L255.3,137.0L253.7,138.1L251.9,138.8L250.6,139.3L249.0,139.9L247.3,139.8L245.8,140.0L244.3,141.1L243.1,142.2L241.9,143.5L240.5,144.4L239.0,145.1L237.7,146.1L236.5,147.2L235.3,148.3L234.4,149.4L233.5,150.6L233.0,151.7L234.0,153.8" fill="none" stroke="#000" stroke-width="2.1" stroke-linejoin="round" stroke-linecap="round"/>
<path d="M44.5,269.5L45.6,269.7L47.2,270.1L48.9,270.8L50.8,271.2L52.5,271.2L54.1,271.1L55.7,270.8L57.2,270.2L58.6,269.5L60.0,268.7L61.5,268.7L63.0,269.2L64.5,269.4L66.1,269.5L67.5,269.8L69.1,270.1L70.8,269.9L72.3,269.0L73.7,268.2L75.1,267.7L76.4,266.7L77.3,265.5L78.5,264.5L79.9,263.5L81.2,262.8L82.8,262.4L84.5,262.0L86.1,261.8L87.6,261.7L89.2,261.2L90.8,260.8L92.4,260.9L94.0,260.5L95.3,259.4L96.5,258.0L97.4,256.5L98.7,255.6L100.1,256.4L100.8,257.9L102.3,259.1L103.7,259.4L105.3,259.7L106.8,260.3L108.4,260.9L110.1,260.9L111.7,261.1L113.3,261.6L114.7,262.5L116.1,263.4L117.4,263.9L119.0,264.8L120.3,266.0L121.4,267.4L122.4,268.9L123.8,270.0L125.2,271.1L126.2,272.5L127.4,273.8L129.0,274.9L130.9,275.9L132.6,276.5L133.8,277.0" fill="none" stroke="#000" stroke-width="2.1" stroke-linejoin="round" stroke-linecap="round"/>
<path d="M105.5,409.5L104.9,410.8L103.8,412.3L102.3,413.8L101.5,415.2L100.4,416.6L100.1,417.4L100.8,418.4L102.2,419.2L103.5,420.2L103.7,421.4L104.3,422.8L105.3,424.2L105.9,425.8L105.8,427.5L105.3,429.0L104.9,430.5L104.5,432.0L104.1,433.5L104.2,435.0L104.5,436.8L104.9,438.5L104.7,440.1L103.7,441.2L102.1,441.7L100.2,442.1L98.6,442.8L97.9,444.2L97.6,445.9L97.8,447.5L98.7,449.1L99.6,450.7L100.0,452.5L99.6,454.1L99.2,455.8L99.7,457.5L100.6,458.5L101.6,459.8L102.3,461.3L102.4,462.5L101.5,463.7L99.8,464.9L98.8,466.3L99.2,467.7L99.9,469.4L100.0,471.3L99.4,472.3L98.4,473.4L97.5,474.6L97.0,476.2L96.4,477.6L95.3,478.9L94.6,480.5L94.4,482.1L93.6,483.7L92.7,484.9L91.9,486.4L90.9,487.7L89.5,488.7L88.5,489.8L87.3,491.6L86.4,493.2L86.1,495.0L86.8,496.8L87.9,498.5L87.8,500.2L86.5,500.8L84.8,500.9L82.9,500.8L81.2,501.1L79.4,501.5L77.6,501.8L76.2,502.5L75.7,503.8L75.4,505.4L75.2,507.2L74.9,508.7L74.0,510.0L72.7,510.9L71.2,511.5L69.9,512.1L68.3,512.6L66.7,512.7L65.0,513.1L63.9,514.1L62.7,515.4L61.4,516.6L60.2,517.7L59.0,518.9L58.0,520.1L57.3,521.3L58.2,523.2L59.1,525.1L57.7,526.3L55.7,526.9L53.7,526.9L52.1,526.7L50.4,526.4L48.8,526.2L47.1,526.0L45.6,525.7L44.5,525.5" fill="none" stroke="#000" stroke-width="2.1" stroke-linejoin="round" stroke-linecap="round"/>
<path d="M176.2,446.2L176.6,447.3L177.0,448.7L177.3,450.4L177.9,452.0L178.7,453.2L179.3,454.6L179.9,456.0L180.7,457.3L181.7,458.3L183.1,459.1L184.1,460.0L185.0,461.0L186.1,461.9L187.4,462.7L188.5,463.9L189.2,465.2L189.4,466.3L189.6,467.6L189.2,469.2L188.2,470.8L187.4,472.5L187.0,473.9L186.2,475.1L185.4,476.4L184.7,477.7L183.9,478.8L183.0,480.4L182.0,481.9L181.2,483.4L181.0,485.0L181.4,486.8L181.8,488.5L182.0,489.9L181.5,491.4L180.6,493.1L180.3,495.1L180.4,496.4L179.9,497.8L179.4,499.4L179.4,501.0L179.8,502.5L180.4,504.0L180.8,505.5L181.3,507.1L182.3,508.4L183.1,509.8L183.5,511.4L183.5,513.0L183.6,514.7L184.1,516.1L184.6,517.5L184.7,519.2L184.6,520.7L184.0,522.2L183.8,523.8L183.4,525.3L182.4,526.6L181.3,527.9L180.4,529.1L180.0,530.0" fill="none" stroke="#000" stroke-width="1.7" stroke-linejoin="round"/>
<path d="M187.5,461.2L188.5,462.0L189.4,463.6L190.4,465.2L191.0,466.9L190.6,468.5L189.8,469.9L189.2,471.3L188.8,472.9L188.4,474.3L187.5,475.8L186.7,477.2L186.0,478.5L185.0,479.0" fill="none" stroke="#000" stroke-width="1.2" stroke-linejoin="round"/>
<path d="M697.50,343.20 C696.48,343.77 693.23,345.50 691.40,346.60 C689.57,347.70 687.90,348.63 686.50,349.80 C685.10,350.97 683.98,352.32 683.00,353.60 C682.02,354.88 681.23,356.18 680.60,357.50 C679.97,358.82 679.63,360.42 679.20,361.50 C678.77,362.58 678.20,363.58 678.00,364.00" fill="none" stroke="#000" stroke-width="3.6" stroke-linejoin="round"/>
<path d="M666.60,378.00 L670.00,376.30 L672.50,374.80" fill="none" stroke="#000" stroke-width="2.6" stroke-linecap="round"/>
<circle cx="683.7" cy="368.6" r="1.1" fill="#111"/><circle cx="675.6" cy="377.1" r="1" fill="#111"/><circle cx="620.3" cy="451" r="1.1" fill="#111"/><circle cx="630.2" cy="458" r="0.9" fill="#111"/><circle cx="622" cy="482.5" r="0.8" fill="#111"/><circle cx="617" cy="507.5" r="1.2" fill="#111"/>
<path d="M697.50,343.20 C696.48,343.77 693.23,345.50 691.40,346.60 C689.57,347.70 687.90,348.63 686.50,349.80 C685.10,350.97 683.95,352.32 683.00,353.60 C682.05,354.88 681.33,356.35 680.80,357.50 C680.27,358.65 679.97,360.00 679.80,360.50" fill="none" stroke="#efeee6" stroke-width="1"/>
<path d="M621.7,437.7L621.5,438.7L621.0,440.1L620.5,441.7L620.2,443.4L620.4,445.0L620.4,446.5L620.2,448.1L620.6,449.6L620.9,451.1L621.0,452.6L621.8,454.1L622.9,455.3L624.0,456.4L625.0,457.5L626.2,459.0L627.0,460.7L627.2,462.5L627.1,463.8L626.7,465.3L626.2,467.0L625.7,468.6L624.9,470.0L624.3,471.6L623.9,473.3L623.3,474.8L622.4,476.2L622.0,477.8L621.7,479.3L621.3,480.9L620.9,482.4L620.4,483.6L619.8,484.9L619.0,486.2L618.1,487.4L617.2,488.5L616.5,489.8L616.1,491.3L615.4,492.6L614.4,493.7L613.6,494.9L613.2,496.4L613.1,498.0L613.0,499.6L613.0,501.1L613.1,502.5L613.5,504.4L614.0,506.0L614.8,507.6L616.0,508.8L617.5,509.6L618.8,510.5L619.5,511.4L619.6,512.6L619.6,514.1L619.3,515.8L618.5,517.4L617.9,518.9L617.7,520.4L617.6,522.1L617.5,523.6L617.5,525.0L617.6,527.1L618.3,528.8L618.8,530.0" fill="none" stroke="#000" stroke-width="1.5" stroke-linejoin="round"/>
<path d="M646.3,399.4L647.2,398.8L648.7,398.7L650.1,398.0L651.4,397.3L652.7,396.3L653.9,395.1L655.1,394.0L656.0,392.9L656.8,391.6L657.5,390.3L658.2,389.0L659.5,388.2L660.8,386.8L661.4,385.1L662.2,383.7L663.7,382.9L664.9,382.0L665.3,380.8L666.3,379.1L666.7,377.8L665.3,378.6L664.0,378.1L662.1,377.6L660.2,377.2L658.8,376.4L657.9,375.0L657.2,373.7L656.5,372.3L656.4,370.7L656.1,369.1L655.3,367.6L654.2,366.2L653.1,364.9L652.2,363.3L652.1,361.6L652.0,360.0L651.0,358.2L650.0,357.3L648.6,358.0L647.1,359.6L646.0,360.7L644.7,361.6L644.0,362.3L642.7,362.2L641.4,360.7L640.7,359.4L640.0,357.8L638.6,356.6L637.1,356.2L635.7,356.6L634.4,357.8L632.9,358.9L631.3,359.9L630.2,361.2L629.0,362.6L627.9,364.0L626.5,364.8L625.8,364.9L625.2,364.3L624.5,362.7L623.6,361.0L622.7,359.5L621.9,358.0L621.4,356.2L621.5,355.0L622.2,353.6L622.7,352.1L622.9,350.4L622.9,348.7L623.1,347.1L623.8,345.6L624.7,344.2L625.3,342.8L625.5,341.5L625.7,339.7L626.8,338.4L627.6,337.3L627.5,336.3L627.1,335.5L626.0,334.7L624.6,334.1L623.4,332.9L622.5,331.7L621.3,331.0L620.1,330.4L618.7,329.6L617.5,329.4L616.1,330.2L614.6,330.6L612.9,330.6L611.3,330.5L610.0,330.5L608.5,330.5L606.9,330.5L605.3,330.0L604.0,329.1L602.6,328.1L600.9,328.3L599.6,329.4L598.2,330.1L596.6,330.4L595.0,330.5L593.4,330.2L591.8,330.0L590.2,330.4L588.7,330.5L587.4,329.9L586.0,328.9L585.2,327.7L583.8,326.9L582.3,327.3L580.9,328.1L579.2,328.7L577.5,329.5L576.2,329.9L574.6,329.7L573.0,329.6L571.5,329.8L570.1,330.2L568.8,330.8L566.9,331.2L565.2,331.1L563.7,330.8L562.2,330.6L560.5,329.7L559.5,328.2L558.9,326.4L558.7,324.9L558.5,323.3L558.6,321.5L559.2,319.7L559.9,318.3L560.9,316.8L562.0,315.4L563.3,314.1L563.9,312.5L563.6,310.9L563.6,309.3L563.8,307.7L563.8,306.2L564.2,304.8L566.1,303.9L567.9,303.0L568.2,301.3L567.3,300.5L566.0,300.0L564.7,299.1L563.4,297.8L562.4,296.4L561.6,295.1L560.2,294.2L559.2,292.9L558.8,291.2L557.8,290.0L556.7,288.9L556.0,287.3L555.7,285.7L556.0,284.1L556.3,282.4L555.7,280.8L554.2,279.9L552.6,279.3L551.1,278.6L549.8,277.5L548.8,276.2L547.9,274.8L546.7,273.6L545.4,272.5L544.4,271.2L544.1,269.7L543.6,268.1L542.9,266.9L541.8,265.7L540.5,264.8L538.9,264.1L537.2,263.6L536.1,262.6L534.9,261.4L533.8,260.2L533.7,258.3L535.5,257.3L537.3,256.1L538.1,254.9L538.5,253.0L538.4,251.0L538.5,249.0L538.5,247.2L537.4,245.6L535.7,244.9L534.2,244.1L533.2,242.8L532.6,241.2L532.4,239.5L532.8,237.8L533.2,236.2L533.1,234.7L532.8,233.2L533.1,231.7L533.2,230.0L533.1,228.5L533.8,226.9L534.7,225.4L534.9,223.8L534.7,222.4L533.6,221.1L532.5,220.2L532.0,218.7L532.0,217.4L532.5,215.8L532.7,214.1L532.1,212.5L531.8,210.9L531.8,209.2L531.0,207.7L529.6,206.4L528.7,205.3L528.3,203.8L528.2,202.1L527.3,200.9L526.2,200.0L525.5,198.3L524.6,196.8L522.7,196.0L521.2,195.5L519.6,194.9L517.8,194.5L516.3,193.6L515.1,192.2L513.4,191.3L511.7,190.7L510.2,189.9L509.0,189.3L508.4,187.8L508.0,186.2L506.8,185.2L505.6,185.0L504.0,184.8L502.7,184.0L502.5,182.2L502.5,180.3L502.2,179.0L500.8,178.0L498.8,177.3L497.3,177.7L495.8,178.3L493.7,178.5L492.4,178.6L491.0,179.0L489.4,179.3L487.9,179.8L486.4,180.3L485.0,180.7L483.4,181.2L481.9,181.2L480.3,181.3L478.9,181.2L477.5,180.6L475.8,180.6L474.2,180.2L472.8,179.6L471.3,179.4L469.4,178.9L467.8,178.0L466.2,177.3L464.9,177.8L463.9,179.0L462.6,179.8L461.1,180.1L459.4,180.0L457.5,179.3L456.3,178.9L454.8,178.2L453.4,177.2L451.8,176.5L450.0,176.5L448.6,176.6L447.0,176.7L445.4,176.9L443.8,177.1L442.4,177.5L441.3,178.0L439.5,179.0L438.3,180.2L437.3,180.9L435.7,180.9L433.8,180.8L432.0,180.5L431.5,179.4L431.7,177.8L431.0,176.3L429.6,175.2L428.5,174.1L427.4,172.6L426.0,171.5L424.6,170.7L423.4,169.8L422.1,168.7L420.7,167.8L418.8,167.6L417.4,167.7L416.1,167.3L414.6,167.0L413.1,166.9L411.6,166.1L410.1,165.7L408.4,165.8L406.6,165.4L404.8,165.3L403.0,165.0L401.6,164.2L400.2,164.1L398.3,164.0L397.0,163.2L396.1,162.3L394.8,161.5L393.4,160.5L392.5,159.1L391.4,157.9L389.9,157.4L388.6,157.1L387.1,157.2L385.5,157.9L383.9,157.8L382.5,157.4L380.6,157.3L378.9,156.8L377.6,155.8L375.7,155.4L373.6,156.3L372.6,157.5L371.3,158.6L369.6,159.1L367.8,159.3L366.3,159.8L364.6,160.0L363.2,159.0L361.9,157.9L360.3,157.4L358.7,157.8L357.0,157.6L355.4,157.1L353.9,156.9L352.5,157.0L350.7,156.1L349.5,154.5L348.7,153.1L347.2,153.3L345.5,154.1L343.7,153.9L342.2,153.6L340.5,153.5L338.7,153.1L337.5,152.3L336.2,151.2L335.1,150.0L333.8,149.2L332.1,148.7L330.7,147.9L328.9,147.1L327.3,147.2L325.6,146.9L324.0,146.2L322.4,145.8L321.1,145.8L319.0,145.5L317.9,145.8L317.3,146.2L316.5,147.3L315.7,148.8L315.1,150.3L314.9,152.3L314.7,154.2L314.1,155.8L312.6,157.1L310.6,157.8L308.6,157.8L307.3,156.8L306.6,155.3L305.5,154.2L304.2,153.7L302.6,152.9L300.9,152.5L299.1,152.6L297.4,152.2L295.7,151.8L294.0,151.6L292.3,151.5L290.6,151.9L288.9,152.1L287.1,152.0L285.3,152.1L283.8,152.3L282.4,151.5L281.1,150.4L279.5,149.8L278.0,149.8L276.6,150.2L275.3,150.8L274.2,151.3L272.8,151.7L271.2,152.1L270.1,152.9L268.5,154.0L266.5,153.9L265.1,152.5L263.5,151.3L261.4,151.1L259.7,151.7L258.1,152.1L256.3,152.1L254.6,151.9L252.8,151.7L251.0,151.3L249.6,150.5L248.4,149.2L246.8,148.5L245.1,148.9L243.6,149.3L242.0,149.4L240.5,150.3L239.3,151.4L238.1,152.1L236.8,152.4L235.4,152.9L234.1,153.9L233.2,154.9L232.2,156.1L231.3,157.4L230.1,158.7L228.8,159.8L227.5,160.8L226.2,161.9L224.8,162.8L223.2,163.3L221.6,163.7L220.1,164.0L218.5,164.4L217.0,164.7L215.5,165.1L213.9,165.4L212.5,165.8L211.2,166.7L210.0,167.1L208.5,167.5L207.6,168.3L206.4,168.9L205.0,170.0L203.9,170.9L202.2,171.2L200.5,171.8L199.0,173.0L197.4,174.0L196.1,175.2L195.1,176.7L194.0,177.8L192.6,178.8L191.4,179.9L190.3,181.1L189.6,182.5L188.9,183.7L188.2,184.7L187.4,186.6L187.3,188.2L187.5,190.1L187.7,191.4L187.2,192.8L186.7,194.2L186.2,195.7L185.3,197.1L184.7,198.5L184.3,200.0L183.6,201.4L183.1,202.9L182.9,204.5L182.4,206.0L181.2,207.0L180.2,208.3L179.7,209.7L178.9,210.8L178.1,212.0L177.3,213.1L175.8,213.9L174.4,214.9L173.0,215.9L171.5,216.1L169.9,216.2L168.6,216.5L166.9,216.8L165.6,217.3L164.8,218.7L163.8,220.0L162.5,221.0L161.2,221.9L160.0,222.9L158.9,224.1L158.2,225.5L157.7,227.0L157.1,228.3L156.0,229.5L155.2,230.9L154.8,232.5L154.6,234.4L154.7,235.8L154.5,237.3L153.6,238.7L152.7,240.0L152.1,241.4L151.9,242.8L151.7,244.5L151.1,245.9L150.4,247.3L150.0,248.7L149.5,250.1L148.9,251.4L148.4,252.8L147.7,254.1L147.6,255.6L148.2,257.1L148.0,259.0L147.4,260.9L147.3,262.7L147.8,264.3L147.9,266.2L146.9,267.5L145.6,268.5L144.5,269.4L143.2,270.3L141.6,271.0L140.0,271.3L138.3,271.8L136.8,272.8L135.3,273.4L134.0,274.1L133.4,275.4L133.5,276.9L132.9,277.9L131.7,278.7L130.7,280.1L130.2,281.7L129.5,282.9L128.6,284.0L128.1,285.4L128.3,287.0L128.4,288.5L128.5,289.9L128.6,291.6L129.4,293.2L130.6,294.6L131.1,296.3L131.8,297.9L132.9,299.3L133.2,300.9L133.0,302.5L133.0,303.8L132.7,305.4L132.0,307.1L130.7,308.4L129.5,309.8L129.1,311.3L129.0,312.9L128.6,314.4L128.4,316.0L128.3,317.6L127.8,319.1L127.3,320.6L127.1,322.3L127.1,324.1L127.4,325.8L127.4,327.6L127.0,329.0L126.6,330.5L125.8,331.8L124.6,333.0L123.9,334.3L123.6,335.9L123.2,337.3L122.5,339.0L122.2,340.7L122.1,342.4L122.1,344.2L122.0,345.9L121.3,347.5L120.6,348.9L119.9,350.3L119.4,351.8L119.4,353.5L118.8,355.0L117.9,356.2L117.7,357.6L117.4,359.3L117.0,360.9L116.6,362.3L115.8,363.7L115.7,365.1L116.7,366.8L117.7,368.2L118.1,370.0L117.8,371.4L117.5,372.9L117.1,374.6L116.5,376.3L115.3,377.6L114.0,378.6L113.4,380.0L112.7,381.4L111.2,382.3L110.2,383.4L110.0,385.0L109.5,386.7L108.7,388.1L107.7,389.2L106.8,390.4L106.1,391.6L105.2,393.1L104.2,394.4L103.1,395.8L102.4,397.5L102.6,399.0L103.3,400.6L103.9,402.1L104.3,403.6L104.7,405.0L105.2,406.8L105.6,408.1L105.7,409.3L106.6,410.5L108.4,410.7L110.0,411.1L111.7,411.6L113.5,411.4L115.1,411.0L116.6,411.9L117.6,413.5L118.2,414.9L118.7,416.6L119.7,417.6L120.8,416.4L120.8,414.6L120.8,412.7L121.9,411.4L123.8,411.1L125.3,410.4L126.4,409.2L127.4,407.9L128.8,406.9L130.7,408.0L132.5,409.3L134.2,408.7L135.5,407.7L136.3,406.8L138.2,406.5L139.8,406.2L140.5,405.8L141.9,404.8L143.3,403.8L144.3,403.0L145.4,401.8L146.0,401.6L146.4,402.6L146.9,404.5L147.7,406.2L148.4,407.7L148.8,409.2L149.5,410.1L151.1,409.3L152.6,407.8L154.4,407.0L156.5,407.4L157.7,408.6L158.6,410.3L160.0,411.3L161.8,411.4L163.6,411.8L165.1,412.8L166.4,413.6L167.9,413.9L169.0,414.8L169.5,416.3L169.9,418.0L170.0,419.9L169.6,421.4L169.4,422.9L169.6,424.5L169.9,426.0L170.5,427.5L170.9,429.1L170.4,430.6L169.6,432.0L169.6,433.6L170.4,434.9L171.0,436.5L171.1,438.2L171.6,439.9L172.6,441.2L173.5,442.5L174.1,444.0L175.0,445.3L176.5,446.0L177.8,447.0L178.5,448.5L179.1,450.0L180.0,451.2L181.0,452.5L181.6,453.9L182.5,455.3L183.8,456.2L184.8,457.5L185.5,459.0L186.5,460.2L187.4,461.3L188.6,462.5L189.4,463.7L190.0,465.0L191.0,466.1L192.1,467.2L193.7,467.6L195.3,467.3L196.8,467.5L198.5,467.9L200.1,468.4L201.9,468.0L203.3,466.7L204.8,465.8L206.6,465.4L208.3,465.0L210.0,464.1L211.6,463.6L213.3,464.0L214.8,465.1L216.0,466.3L217.2,467.1L218.4,467.8L219.5,468.7L220.9,469.3L222.6,469.4L223.9,470.2L224.8,471.6L226.1,472.2L227.6,472.6L228.8,473.5L230.0,474.3L231.4,474.7L232.9,475.1L234.5,475.2L236.0,475.4L237.4,475.6L239.1,475.8L240.7,475.3L242.2,474.4L243.8,473.9L245.2,473.3L246.6,473.1L248.2,473.6L250.0,473.5L251.5,472.8L253.1,472.4L254.9,472.6L256.7,473.0L258.4,473.2L260.0,472.8L261.7,473.0L263.3,473.3L264.8,472.9L266.2,473.3L267.4,474.2L269.3,474.6L271.2,474.8L273.0,475.4L274.4,476.8L275.8,478.2L277.5,478.9L279.2,479.0L280.8,478.6L282.5,477.9L284.0,478.4L285.3,479.6L287.0,480.2L288.8,480.4L290.2,480.8L291.7,480.7L293.3,480.4L294.9,480.6L296.2,481.5L297.7,482.2L299.2,482.5L300.8,482.5L302.6,482.1L304.1,482.2L305.5,483.2L307.0,484.1L308.6,484.3L310.0,483.7L311.8,483.1L313.4,482.8L315.0,483.2L316.1,483.8L317.5,484.4L318.6,485.5L319.6,486.7L320.9,487.7L322.2,488.6L323.6,489.3L325.1,489.8L326.8,490.7L328.2,491.8L330.0,492.5L331.4,492.3L333.0,492.5L334.6,493.0L336.2,492.7L337.6,492.4L339.5,492.9L341.0,493.8L342.5,494.4L344.2,494.7L345.9,494.5L347.6,493.9L348.9,493.0L350.4,492.3L352.1,492.5L353.6,493.0L355.0,493.2L356.8,492.3L358.3,491.3L360.0,491.1L361.6,491.7L363.2,492.4L364.9,493.1L366.7,493.3L368.4,492.9L370.0,492.9L371.4,493.5L372.6,494.1L373.8,494.9L374.6,496.1L375.4,497.4L376.5,498.6L377.5,499.8L378.3,501.4L378.8,502.9L379.5,504.0L380.6,503.5L381.3,502.1L382.6,501.0L384.0,500.4L385.3,499.7L386.9,499.3L388.6,499.5L390.3,499.3L391.8,498.1L392.7,496.3L393.7,495.0L394.9,493.6L395.4,491.7L394.9,489.9L393.6,489.0L392.4,488.0L391.4,486.7L391.0,485.1L391.1,483.4L390.9,481.8L390.5,480.3L390.3,478.8L390.6,477.2L390.9,475.5L391.5,473.8L392.8,472.8L393.8,471.7L394.7,470.3L396.1,469.5L397.5,468.8L398.8,467.7L400.4,466.9L402.0,466.2L403.6,465.6L405.2,465.5L406.9,465.6L408.4,465.3L409.9,464.5L411.5,464.0L413.2,464.2L414.9,464.4L416.3,464.1L417.9,464.4L419.0,465.4L419.9,466.4L421.8,466.8L423.7,466.3L424.9,465.8L426.7,465.4L428.8,465.1L430.1,464.7L431.7,464.1L433.3,464.0L434.9,464.2L436.2,463.7L437.2,462.5L438.3,461.4L439.4,460.2L440.1,458.8L440.9,457.4L441.8,456.1L442.9,454.9L444.3,454.1L445.2,452.7L445.2,451.0L446.1,449.8L447.7,449.1L449.2,448.1L451.1,447.5L452.8,447.6L454.4,447.1L456.0,446.6L457.5,446.5L459.0,446.9L460.7,447.2L462.6,447.4L464.0,448.1L465.7,449.4L467.1,450.7L468.5,451.5L469.9,452.5L470.6,453.9L471.2,454.4L471.7,453.2L472.2,451.0L473.4,449.2L475.1,448.8L476.8,448.4L478.4,447.5L480.0,447.4L481.6,448.4L483.2,448.9L485.0,448.5L486.5,448.0L488.4,448.2L490.2,447.7L491.4,446.7L492.9,446.2L494.6,446.4L496.2,446.3L497.6,446.2L499.4,445.9L500.9,445.3L502.5,445.0L504.0,445.1L505.7,445.1L507.3,445.6L508.5,446.7L509.9,447.3L511.5,447.7L512.9,448.6L513.9,449.8L515.1,450.9L516.4,451.6L517.9,452.3L519.0,453.5L519.8,455.0L521.0,455.9L522.6,456.4L523.8,457.5L524.9,458.3L526.3,458.9L527.5,459.8L528.8,460.5L530.0,461.2L531.5,462.1L533.1,462.5L534.7,462.6L536.3,462.8L537.9,463.1L539.5,463.1L541.1,463.0L542.5,462.5L543.7,461.4L544.7,460.1L546.2,459.4L547.8,458.7L549.5,458.0L551.4,457.8L553.1,457.1L554.6,455.9L556.0,454.7L557.3,453.8L558.4,452.7L559.7,451.7L560.9,450.9L562.2,449.6L563.5,448.5L564.8,447.3L565.8,446.3L567.1,445.5L568.4,444.8L570.1,444.7L571.4,444.6L572.8,443.9L574.3,443.3L576.0,443.5L577.5,443.9L579.0,444.1L580.5,444.1L581.9,444.8L583.4,445.4L585.0,445.2L586.5,444.6L588.0,444.1L589.6,444.0L591.1,443.8L592.6,443.7L594.0,443.4L595.4,442.7L596.8,443.0L598.4,443.0L600.0,442.2L601.5,442.2L603.2,442.4L604.9,442.2L606.7,442.3L608.4,442.2L610.0,442.0L611.9,441.7L613.9,441.8L615.8,442.0L617.4,441.3L618.6,440.9L620.4,439.9L620.8,438.5L620.9,437.5L621.2,436.2L622.1,434.5L623.3,432.8L624.0,431.1L624.3,429.5L624.5,427.9L625.0,426.5L625.5,425.0L626.3,423.6L627.2,422.3L627.9,420.9L628.9,419.6L629.7,418.1L630.6,416.7L631.4,415.2L632.0,413.7L633.1,412.2L633.6,410.7L634.4,409.2L635.7,408.2L637.4,407.3L639.1,406.7L640.0,405.7" fill="none" stroke="#000" stroke-width="2.5" stroke-linejoin="round" stroke-linecap="round"/>
</g>
<rect x="44.3" y="126" width="652.8" height="404.1" fill="none" stroke="#000" stroke-width="1.9"/>
<g stroke="#1a1a1a" stroke-width="1">
<line x1="69.45" y1="530" x2="69.45" y2="542.5"/>
<line x1="155.45" y1="530" x2="155.45" y2="542.5"/>
<line x1="241.45" y1="530" x2="241.45" y2="542.5"/>
<line x1="327.45" y1="530" x2="327.45" y2="542.5"/>
<line x1="413.45" y1="530" x2="413.45" y2="542.5"/>
<line x1="499.45" y1="530" x2="499.45" y2="542.5"/>
<line x1="585.45" y1="530" x2="585.45" y2="542.5"/>
<line x1="671.45" y1="530" x2="671.45" y2="542.5"/>
<line x1="31.5" y1="186" x2="44" y2="186"/>
<line x1="31.5" y1="272" x2="44" y2="272"/>
<line x1="31.5" y1="358" x2="44" y2="358"/>
<line x1="31.5" y1="444" x2="44" y2="444"/>
<line x1="31.5" y1="530" x2="44" y2="530"/>
</g>
<g font-size="10.7" fill="#444" text-anchor="middle">
<text x="69.75" y="557">55°W</text>
<text x="155.75" y="557">54°W</text>
<text x="241.75" y="557">53°W</text>
<text x="327.75" y="557">52°W</text>
<text x="413.75" y="557">51°W</text>
<text x="499.75" y="557">50°W</text>
<text x="585.75" y="557">49°W</text>
<text x="671.75" y="557">48°W</text>
</g><g font-size="10.7" fill="#444" text-anchor="end">
<text x="25" y="189.9">23°S</text>
<text x="25" y="275.9">24°S</text>
<text x="25" y="361.9">25°S</text>
<text x="25" y="447.9">26°S</text>
<text x="25" y="533.9">27°S</text>
</g>
<text x="370.6" y="112.8" font-size="16.4" font-weight="bold" text-anchor="middle" fill="#000">Velocidade da Rajada - Máximas (21/09/2025 15:00h - 22/09/2025 00:00h GMT-3)</text>
<rect x="208.5" y="581.3" width="37" height="6" fill="#4a9cf0"/>
<rect x="244.5" y="581.3" width="37" height="6" fill="#3585ee"/>
<rect x="280.5" y="581.3" width="37" height="6" fill="#2878ea"/>
<rect x="316.5" y="581.3" width="37" height="6" fill="#ffe57a"/>
<rect x="352.5" y="581.3" width="37" height="6" fill="#ffa000"/>
<rect x="388.5" y="581.3" width="37" height="6" fill="#ff6400"/>
<rect x="424.5" y="581.3" width="37" height="6" fill="#ff3200"/>
<rect x="460.5" y="581.3" width="37" height="6" fill="#e01400"/>
<rect x="496.5" y="581.3" width="36" height="6" fill="#a00000"/>
<text x="370.5" y="577.5" font-size="14.7" text-anchor="middle" fill="#222">(km/h)</text>
<g font-size="14.3" font-weight="bold" fill="#000" text-anchor="middle">
<text x="244.5" y="600.7">-10</text>
<text x="280.5" y="600.7">0</text>
<text x="316.5" y="600.7">10</text>
<text x="352.5" y="600.7">20</text>
<text x="388.5" y="600.7">30</text>
<text x="424.5" y="600.7">40</text>
<text x="460.5" y="600.7">50</text>
<text x="496.5" y="600.7">60</text>
</g>
<g fill="#e0a612"><path d="M639,138.5 H681 V150 H669.5 V144 H639 Z"/><path d="M628,138.5 H635 V147 H666 V150 H628 Z"/></g>
<defs><linearGradient id="lg" gradientUnits="userSpaceOnUse" x1="0" y1="151" x2="0" y2="160"><stop offset="0" stop-color="#9c9c9c"/><stop offset="0.5" stop-color="#777"/><stop offset="1" stop-color="#565656"/></linearGradient></defs><g fill="none" stroke="url(#lg)" stroke-width="1.5" stroke-linecap="butt" stroke-linejoin="round">
<path d="M580.8,151.7 H572 Q568.5,151.9 566.4,154.3 Q566.3,155.1 568,155.2 L577.5,155.9 Q580.3,156.2 580.4,157.6 Q580.4,159.1 578,159.2 H565.4"/>
<path d="M586.6,151.4 L585.7,159.9" stroke-width="1.8"/>
<path d="M590.8,159.9 L591.6,153.6 Q592,151.8 595,151.7 H602 Q605.3,151.8 605.4,153.6 L605.8,159.9 M598.6,151.9 L598.3,159.9"/>
<path d="M608.6,151.7 H623 Q625.5,151.7 625.3,153.4 Q625,155 622.5,155 H612 Q609.2,155.1 609.8,157.1 Q610.5,159.1 614,159.2 H625.6"/>
<path d="M628.8,159.9 V151.7 H640.5 Q643.5,151.8 643.5,153.7 Q643.5,155.6 640.5,155.7 H629.5"/>
<path d="M648.6,151.7 H659 Q662.8,151.9 662.8,155.4 Q662.8,159 659,159.2 H651.5 Q648.4,159.1 648.4,157.2 Q648.4,155.2 651.5,155.1 H662"/>
<path d="M666.5,159.9 V151.7 H677 Q680,151.8 680,153.5 Q680,155.1 677,155.2 H667.2 M676,155.4 L680.5,159.9"/>
</g>
</svg></body></html>
